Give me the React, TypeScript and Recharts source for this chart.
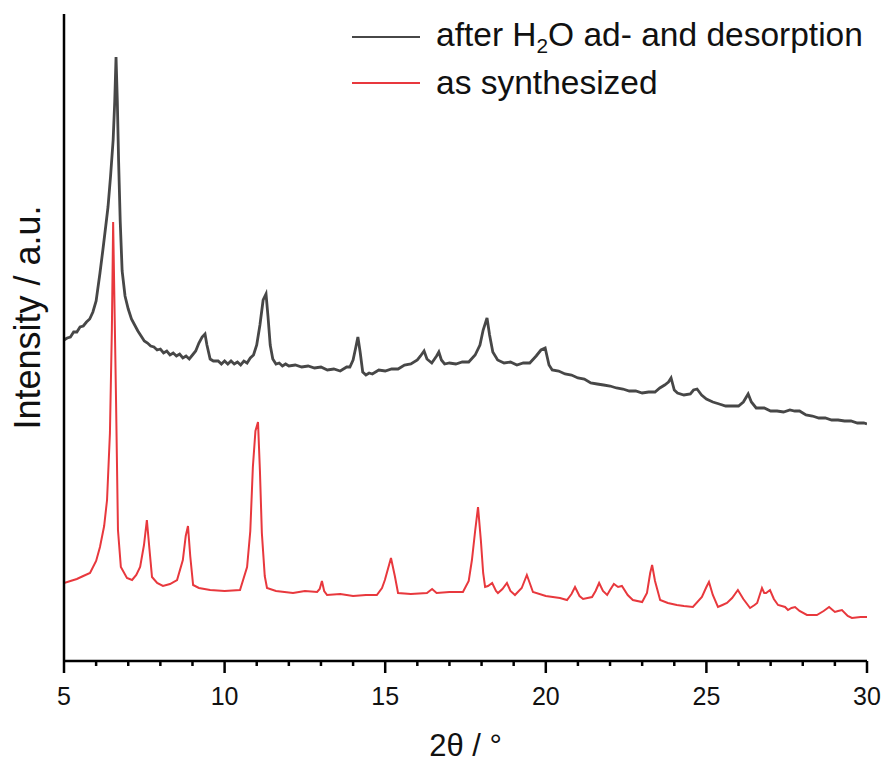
import { LineChart, Line, XAxis, YAxis, Legend } from "recharts";

// 2θ positions and intensities (a.u.)
const afterTheta = [
    5.0, 5.1, 5.2, 5.3, 5.4, 5.5, 5.6, 5.7, 5.8, 5.9, 6.0, 6.12, 6.21, 6.3, 6.37, 6.45, 6.53, 6.58, 6.62,
    6.66, 6.7, 6.75, 6.81, 6.9, 7.0, 7.1, 7.2, 7.3, 7.4, 7.5, 7.6, 7.7, 7.8, 7.9, 8.0, 8.1, 8.2, 8.3, 8.4,
    8.5, 8.6, 8.7, 8.8, 8.9, 9.0, 9.1, 9.2, 9.3, 9.39, 9.45, 9.55, 9.65, 9.8, 9.9, 10.0, 10.1, 10.2, 10.3,
    10.4, 10.5, 10.6, 10.7, 10.8, 10.9, 11.0, 11.1, 11.2, 11.29, 11.35, 11.42, 11.5, 11.6, 11.7, 11.8,
    11.9, 12.0, 12.2, 12.4, 12.6, 12.8, 13.0, 13.2, 13.4, 13.6, 13.8, 13.9, 14.0, 14.08, 14.15, 14.22,
    14.3, 14.4, 14.5, 14.6, 14.8, 15.0, 15.2, 15.4, 15.6, 15.8, 16.0, 16.1, 16.21, 16.3, 16.45, 16.6,
    16.67, 16.75, 16.85, 17.0, 17.2, 17.4, 17.6, 17.8, 17.95, 18.05, 18.17, 18.25, 18.35, 18.5, 18.7,
    18.9, 19.1, 19.3, 19.5, 19.7, 19.85, 19.98, 20.1, 20.2, 20.4, 20.6, 20.8, 21.0, 21.2, 21.4, 21.6,
    21.8, 22.0, 22.2, 22.4, 22.6, 22.8, 23.0, 23.2, 23.4, 23.55, 23.7, 23.82, 23.9, 24.0, 24.1, 24.3,
    24.5, 24.6, 24.71, 24.85, 25.0, 25.2, 25.4, 25.6, 25.8, 26.0, 26.15, 26.3, 26.4, 26.55, 26.8, 27.0,
    27.2, 27.4, 27.6, 27.75, 27.9, 28.1, 28.3, 28.5, 28.7, 28.9, 29.1, 29.3, 29.5, 29.7, 29.9, 30.0,
];
const afterIntensity = [
    321, 323, 324, 329, 329, 334, 335, 339, 342, 349, 360, 388, 411, 435, 454, 485, 521, 560, 604,
    560, 500, 440, 390, 365, 352, 342, 336, 330, 325, 320, 318, 315, 314, 311, 312, 308, 310, 306, 308,
    305, 307, 303, 305, 302, 306, 310, 318, 324, 327, 316, 302, 300, 300, 297, 300, 297, 300, 297,
    299, 296, 300, 298, 303, 306, 316, 336, 361, 367, 345, 316, 302, 297, 298, 295,
    297, 295, 296, 294, 295, 293, 294, 291, 292, 290, 294, 294, 301, 313, 324, 309,
    289, 286, 288, 287, 291, 290, 292, 292, 296, 297, 301, 305, 310, 302, 298, 305,
    309, 301, 297, 298, 297, 299, 299, 306, 316, 331, 343, 326, 309, 301, 298,
    299, 296, 298, 298, 305, 311, 313, 296, 291, 290, 287, 286, 283, 282, 278, 277,
    276, 275, 273, 272, 270, 270, 268, 269, 269, 273, 276, 279, 283, 271, 268, 266,
    267, 271, 272, 266, 262, 259, 257, 255, 255, 255, 259, 267, 259, 253, 253, 250,
    250, 249, 251, 250, 250, 246, 245, 243, 243, 241, 241, 240, 240, 238, 238, 237,
];

const synthTheta = [
    5.0, 5.2, 5.4, 5.6, 5.81, 6.0, 6.12, 6.25, 6.34, 6.43, 6.49, 6.53, 6.58, 6.62, 6.68, 6.77, 6.96,
    7.12, 7.25, 7.37, 7.49, 7.58, 7.66, 7.74, 7.9, 8.08, 8.3, 8.52, 8.7, 8.79, 8.86, 8.93, 9.02, 9.2,
    9.55, 10.0, 10.48, 10.7, 10.8, 10.88, 10.96, 11.04, 11.1, 11.16, 11.25, 11.32, 11.6, 12.13, 12.5,
    12.88, 12.96, 13.03, 13.1, 13.19, 13.6, 14.0, 14.4, 14.74, 14.9, 14.99, 15.18, 15.3, 15.4, 15.8,
    16.3, 16.46, 16.6, 17.0, 17.42, 17.6, 17.7, 17.8, 17.89, 17.98, 18.05, 18.11, 18.2, 18.33, 18.45,
    18.51, 18.65, 18.79, 18.9, 19.04, 19.25, 19.41, 19.5, 19.6, 20.0, 20.44, 20.66, 20.8, 20.91, 21.05,
    21.16, 21.44, 21.55, 21.66, 21.78, 21.91, 22.0, 22.12, 22.25, 22.37, 22.55, 22.71, 23.0, 23.15,
    23.25, 23.31, 23.4, 23.56, 23.8, 24.08, 24.3, 24.58, 24.86, 25.0, 25.08, 25.2, 25.36, 25.5, 25.64,
    25.8, 25.98, 26.15, 26.36, 26.5, 26.58, 26.73, 26.8, 26.86, 26.98, 27.1, 27.23, 27.45, 27.54,
    27.65, 27.76, 27.9, 28.13, 28.44, 28.65, 28.82, 29.0, 29.1, 29.22, 29.4, 29.53, 29.8, 30.0,
];
const synthIntensity = [
    78, 80, 82, 85, 88, 100, 114, 135, 161, 228, 331, 439, 340, 261, 131, 94, 83,
    81, 86, 94, 116, 141, 112, 84, 78, 75, 77, 81, 101, 125, 135, 105, 76, 73,
    71, 70, 71, 94, 130, 194, 230, 239, 190, 128, 85, 73, 70, 68, 70,
    69, 72, 80, 70, 66, 67, 65, 66, 66, 73, 81, 103, 85, 68, 67,
    68, 72, 68, 69, 69, 80, 101, 130, 154, 120, 88, 74, 75, 78, 70,
    68, 72, 78, 70, 66, 73, 86, 78, 69, 65, 63, 61, 67, 74, 65,
    62, 64, 70, 78, 70, 66, 71, 77, 74, 75, 66, 61, 59, 68,
    88, 96, 80, 61, 58, 56, 55, 54, 64, 74, 79, 66, 54, 56, 58,
    63, 71, 62, 53, 56, 58, 73, 68, 68, 71, 62, 56, 54, 51,
    53, 54, 50, 46, 46, 50, 54, 49, 50, 51, 45, 43, 44, 44,
];

const thetaTicks = [5, 6, 7, 8, 9, 10, 11, 12, 13, 14, 15, 16, 17, 18, 19, 20, 21, 22, 23, 24, 25, 26, 27, 28, 29, 30];
const majorTicks = [5, 10, 15, 20, 25, 30];

const afterData = afterTheta.map((t, i) => ({ theta: t, intensity: afterIntensity[i] }));
const synthData = synthTheta.map((t, i) => ({ theta: t, intensity: synthIntensity[i] }));

const FONT = "'Liberation Sans', Arial, sans-serif";
const GREY = "#474747";
const RED = "#e8383d";

const ThetaTick = (props: any) => {
    const { x, y, payload } = props;
    const major = majorTicks.includes(payload.value);
    return (
        <g>
            <line x1={x} x2={x} y1={y} y2={y + (major ? 12 : 5)} stroke="#000" strokeWidth={2.5} />
            {major && (
                <text x={x} y={y + 44} textAnchor="middle" fontSize={25} fontFamily={FONT} fill="#111">
                    {payload.value}
                </text>
            )}
        </g>
    );
};

const XTitle = ({ viewBox }: any) => {
    const cx = viewBox.x + viewBox.width / 2;
    return (
        <text x={cx} y={viewBox.y + 95} textAnchor="middle" fontSize={31} fontFamily={FONT} fill="#111">
            2θ / °
        </text>
    );
};

const YTitle = ({ viewBox }: any) => {
    const cx = 40;
    const cy = viewBox.y + viewBox.height / 2 - 20;
    return (
        <text
            x={cx}
            y={cy}
            transform={`rotate(-90 ${cx} ${cy})`}
            textAnchor="middle"
            fontSize={36}
            fontFamily={FONT}
            fill="#111"
        >
            Intensity / a.u.
        </text>
    );
};

const legendLabel = (name: string) =>
    name.includes("H2O") ? (
        <span>
            after H<sub style={{ fontSize: "0.62em", verticalAlign: "-0.35em" }}>2</sub>O ad- and desorption
        </span>
    ) : (
        <span>{name}</span>
    );

const renderLegend = ({ payload }: any) => (
    <div style={{ fontFamily: FONT, fontSize: 33.5, color: "#111" }}>
        {(payload || []).map((entry: any) => (
            <div key={entry.value} style={{ display: "flex", alignItems: "center", height: 46, whiteSpace: "nowrap" }}>
                <svg width={86} height={10} style={{ flexShrink: 0 }}>
                    <line x1={2} x2={70} y1={5} y2={5} stroke={entry.color} strokeWidth={2} />
                </svg>
                {legendLabel(entry.value)}
            </div>
        ))}
    </div>
);

export default function App() {
    return (
        <div style={{ position: "absolute", left: 0, top: 0, width: 884, height: 764, background: "#fff" }}>
            <LineChart width={884} height={764} margin={{ top: 14, right: 17, left: 0, bottom: 0 }}>
                <XAxis
                    dataKey="theta"
                    type="number"
                    domain={[5, 30]}
                    ticks={thetaTicks}
                    interval={0}
                    allowDataOverflow
                    height={103}
                    tickSize={0}
                    tickMargin={0}
                    tickLine={false}
                    tick={<ThetaTick />}
                    axisLine={{ stroke: "#000", strokeWidth: 2.5 }}
                    label={<XTitle />}
                />
                <YAxis
                    type="number"
                    domain={[0, 647]}
                    allowDataOverflow
                    width={64}
                    tick={false}
                    tickLine={false}
                    axisLine={{ stroke: "#000", strokeWidth: 2.5 }}
                    label={<YTitle />}
                />
                <Legend
                    layout="vertical"
                    align="center"
                    verticalAlign="middle"
                    content={renderLegend}
                    wrapperStyle={{ position: "absolute", left: 350, top: 14, width: "auto" }}
                />
                <Line
                    data={afterData}
                    dataKey="intensity"
                    name="after H2O ad- and desorption"
                    type="linear"
                    stroke={GREY}
                    strokeWidth={2.8}
                    dot={false}
                    isAnimationActive={false}
                />
                <Line
                    data={synthData}
                    dataKey="intensity"
                    name="as synthesized"
                    type="linear"
                    stroke={RED}
                    strokeWidth={2}
                    dot={false}
                    isAnimationActive={false}
                />
            </LineChart>
        </div>
    );
}
